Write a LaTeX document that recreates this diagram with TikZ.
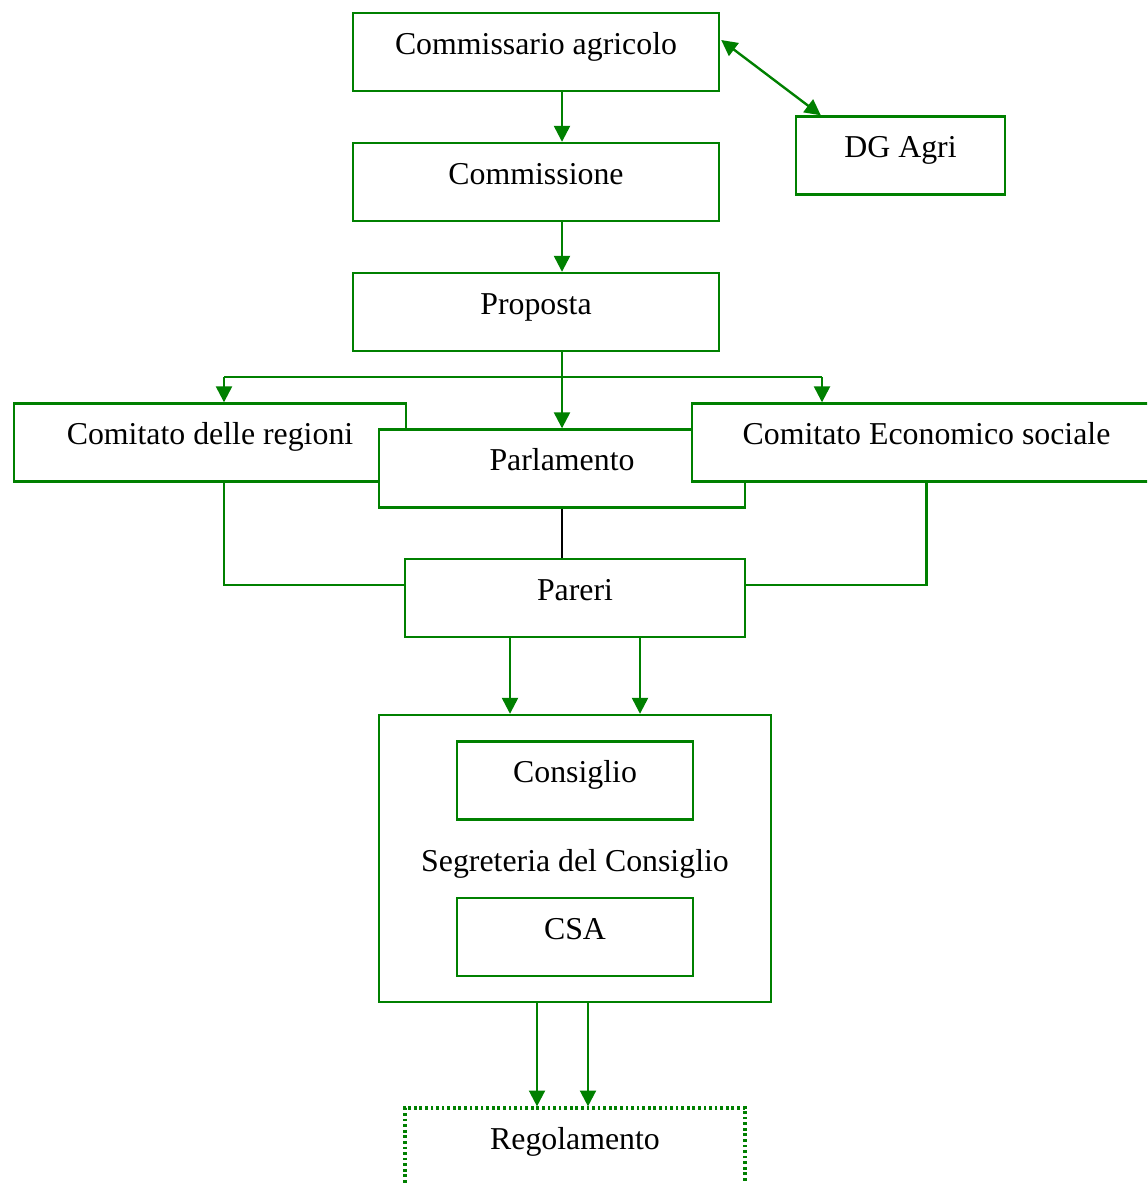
\documentclass[tikz,border=0pt]{standalone}
\usepackage{fontspec}
\setmainfont{Liberation Serif}
\usetikzlibrary{arrows.meta,calc}
\definecolor{agrigreen}{RGB}{0,128,0}
\def\pxu{0.377pt}
\tikzset{%
  tipA/.tip={Triangle[length=6pt,width=6pt]},
  box/.style={draw=agrigreen,line width=0.9pt,fill=white,rectangle,inner sep=0pt,
    text height=15.6pt,text depth=13.8pt,font=\fontsize{12}{14}\selectfont},
  frame/.style={draw=agrigreen,line width=0.9pt,rectangle,inner sep=0pt},
  link/.style={draw=agrigreen,line width=0.9pt},
  arr/.style={link,-tipA},
}

\begin{document}
\begin{tikzpicture}[x=0.377pt,y=-0.377pt]
\useasboundingbox (0,0) rectangle (1147,1183);
\clip (0,0) rectangle (1147,1183);
% top chain
\node[box,minimum width=366*\pxu] (comm) at (536,52) {Commissario agricolo};
\node[box,minimum width=366*\pxu] (cion) at (536,182) {Commissione};
\node[box,minimum width=366*\pxu] (prop) at (536,312) {Proposta};
\node[box,minimum width=209*\pxu] (dg) at (900.5,155.5) {DG Agri};
% the three bodies that give opinions
\node[box,minimum width=392*\pxu] (cdr) at (210,442.5) {Comitato delle regioni};
\node[box,minimum width=366*\pxu] (parl) at (562,468.5) {Parlamento};
\node[box,minimum width=469*\pxu] (ces) at (926.5,442.5) {Comitato Economico sociale};
\node[box,minimum width=340*\pxu] (pareri) at (575,598) {Pareri};
% council
\node[frame,minimum width=392*\pxu,minimum height=287*\pxu] (cons) at (575,858.5) {};
\node[box,minimum width=236*\pxu] (consiglio) at (575,780.5) {Consiglio};
\node[font=\fontsize{12}{14}\selectfont] (segr) at (575,864) {Segreteria del Consiglio};
\node[box,minimum width=236*\pxu] (csa) at (575,937) {CSA};
\node[box,minimum width=340*\pxu,line width=1.2pt,dash pattern=on 1pt off 1.1pt] (reg) at (575,1147) {Regolamento};

\draw[arr] (comm.south -| parl) -- (cion.north -| parl);
\draw[arr] (cion.south -| parl) -- (prop.north -| parl);
\draw[link,tipA-tipA] ($(comm.east)+(1,-12)$) -- ($(dg.north west)+(26,0)$);

\coordinate (busL) at (224,377);
\coordinate (busR) at (822,377);
\draw[link] (busL) -- (busR);
\draw[arr] (prop.south -| parl) -- (parl.north);
\draw[arr] (busL) -- (busL |- cdr.north);
\draw[arr] (busR) -- (busR |- ces.north);

\draw[line width=0.45pt] (parl.south) -- (parl.south |- pareri.north);
\draw[link] (busL |- cdr.south) |- ($(pareri.west)+(0,-13)$);
\draw[link] (ces.south) |- ($(pareri.east)+(0,-13)$);

\foreach \dx in {-65,65}
  \draw[arr] ($(pareri.south)+(\dx,0)$) -- ($(cons.north)+(\dx,0)$);
\foreach \dx in {-38,13}
  \draw[arr] ($(cons.south)+(\dx,0)$) -- ($(reg.north)+(\dx,0)$);
\end{tikzpicture}
\end{document}
